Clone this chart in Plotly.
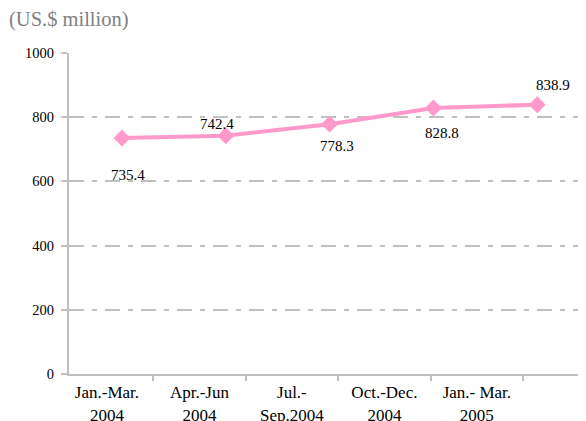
import plotly.graph_objects as go

periods = ["Jan.-Mar.<br>2004", "Apr.-Jun<br>2004", "Jul.-<br>Sep.2004", "Oct.-Dec.<br>2004", "Jan.- Mar.<br>2005"]
values = [735.4, 742.4, 778.3, 828.8, 838.9]
value_labels = ["735.4", "742.4", "778.3", "828.8", "838.9"]
label_shifts = [(6, -37), (-9, 12), (7, -22), (9, -25), (16, 20)]

GRID = "#c0c0c0"
FONT = "Liberation Serif, Times New Roman, serif"
PINK = "#FF99CC"

fig = go.Figure()
fig.add_trace(go.Scatter(
    x=list(range(len(values))), y=values, mode="lines+markers",
    line=dict(color=PINK, width=4),
    marker=dict(symbol="diamond", size=13, color=PINK),
    showlegend=False, hoverinfo="skip", cliponaxis=False,
))
# invisible trace for category label axis
fig.add_trace(go.Scatter(
    x=list(range(len(periods))), y=[None]*len(periods), xaxis="x2",
    mode="markers", showlegend=False, hoverinfo="skip",
))

for i, (v, t, (dx, dy)) in enumerate(zip(values, value_labels, label_shifts)):
    fig.add_annotation(x=i, y=v, text=t, showarrow=False, xshift=dx, yshift=dy,
                       font=dict(family=FONT, size=15, color="#000000"))

fig.add_annotation(xref="paper", yref="paper", x=-0.12, y=1.103, xanchor="left", yanchor="middle",
                   text="(US.$ million)", showarrow=False,
                   font=dict(family=FONT, size=20.5, color="#808080"))

fig.update_layout(
    width=578, height=413,
    margin=dict(l=61, r=0, t=45, b=47, autoexpand=False),
    paper_bgcolor="white", plot_bgcolor="white",
    xaxis=dict(range=[-0.51, 4.47], showticklabels=False, ticks="",
               showgrid=False, zeroline=False, showline=True, linecolor=GRID, linewidth=2),
    xaxis2=dict(overlaying="x", anchor="y", side="bottom", range=[-0.41, 5.18],
                tickvals=list(range(len(periods))), ticktext=periods,
                ticks="outside", ticklen=2, tickcolor="rgba(0,0,0,0)",
                minor=dict(tick0=0.5, dtick=1, ticks="outside", ticklen=5, tickcolor=GRID, tickwidth=2, showgrid=False),
                showgrid=False, zeroline=False, showline=True, linecolor=GRID, linewidth=2,
                automargin=False,
                tickfont=dict(family=FONT, size=17, color="#000000")),
    yaxis=dict(range=[0, 1000], dtick=200, tick0=0,
               showgrid=True, gridcolor=GRID, gridwidth=2, griddash="15px,8px,5px,8px",
               zeroline=False, showline=True, linecolor=GRID, linewidth=2,
               ticks="outside", ticklen=6, tickcolor=GRID, tickwidth=2, automargin=False,
               ticklabelstandoff=4,
               tickfont=dict(family=FONT, size=14.5, color="#000000")),
)

fig.write_html("out.html")
